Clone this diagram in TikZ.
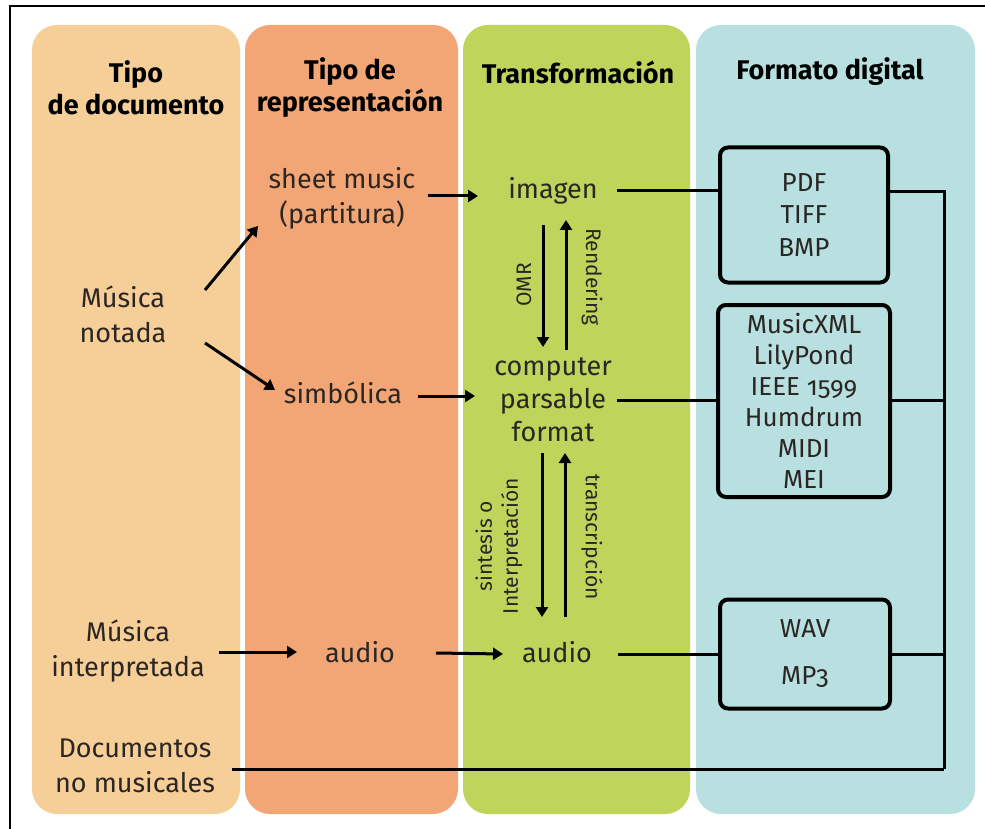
\documentclass[tikz,border=0pt]{standalone}
\usepackage{fontspec}
\setmainfont{Fira Sans}[Numbers=OldStyle]
\usetikzlibrary{positioning,arrows.meta}

\definecolor{coldoc}{HTML}{F6CF98}
\definecolor{colrep}{HTML}{F2A675}
\definecolor{coltra}{HTML}{BED45B}
\definecolor{colfmt}{HTML}{B8E0E1}
\definecolor{darktxt}{HTML}{2B2623}

\tikzset{
  column/.style={fill=#1, draw=none, rounded corners=25pt},
  head/.style={font=\bfseries\fontsize{27}{32}\selectfont, align=center, inner sep=0pt},
  txt/.style={font=\fontsize{27}{35}\selectfont, align=center, text=darktxt, inner sep=0pt},
  small/.style={font=\fontsize{21}{26}\selectfont, align=center, text=darktxt, inner sep=0pt},
  fmtbox/.style={draw, line width=4pt, rounded corners=8pt, align=center,
    text=darktxt, inner sep=0pt},
  arr/.style={-{Triangle[length=10pt,width=12pt]}, line width=3pt},
  link/.style={line width=3pt}
}

\begin{document}
\begin{tikzpicture}[x=1pt,y=-1pt]
  \useasboundingbox (0,0) rectangle (985,829);
  \fill[white] (0,0) rectangle (985,829);
  \draw[line width=1.5pt] (10,829) -- (10,6) -- (985,6);

  % columns
  \fill[column=coldoc] (32,25) rectangle (240,814);
  \fill[column=colrep] (245,25) rectangle (458,814);
  \fill[column=coltra] (463,25) rectangle (690,814);
  \fill[column=colfmt] (696,25) rectangle (975,814);

  % headers
  \node[head] (hdoc) at (136,88) {Tipo\\de documento};
  \node[head] (hrep) at (350,88) {Tipo de\\representación};
  \node[head] (htra) at (578,72) {Transformación};
  \node[head] (hfmt) at (830,72) {Formato digital};

  % tipo de documento
  \node[txt] (notada) at (123,314) {Música\\notada};
  \node[txt] (interp) at (128,651) {Música\\interpretada};
  \node[txt] (nomus) at (135,766) {Documentos\\no musicales};

  % tipo de representacion
  \node[txt] (sheet) at (342,198) {sheet music\\(partitura)};
  \node[txt] (simb) at (343,393) {simbólica};
  \node[txt] (audrep) at (360,652) {audio};

  % transformacion
  \node[txt] (imagen) at (553,191) {imagen};
  \node[txt, font=\fontsize{27}{33}\selectfont] (cpf) at (553,400) {computer\\parsable\\format};
  \node[txt] (audtra) at (557,652) {audio};

  % formato digital
  \node[fmtbox, minimum width=168pt, minimum height=135pt,
    font=\fontsize{26}{32.5}\selectfont] (pdf) at (804,215) {PDF\\TIFF\\BMP};
  \node[fmtbox, minimum width=172pt, minimum height=192pt,
    font=\fontsize{26}{31}\selectfont] (xml) at (804,401)
    {MusicXML\\LilyPond\\IEEE 1599\\Humdrum\\MIDI\\MEI};
  \node[fmtbox, minimum width=170pt, minimum height=109pt,
    font=\fontsize{26}{47}\selectfont] (wav) at (805,654) {WAV\\MP3};

  \coordinate (bustop) at (944,192);
  \coordinate (busbot) at (944,769);

  % arrows
  \draw[arr] ([shift={(82,-24)}]notada.center) -- ([shift={(-84,28)}]sheet.center);
  \draw[arr] ([shift={(82,29)}]notada.center) -- ([shift={(-68,-3)}]simb.center);
  \draw[arr] ([shift={(86,-2)}]sheet.center) -- ([shift={(-75,-2)}]sheet.center -| imagen.center);
  \draw[arr] ([shift={(75,3)}]simb.center) -- ([shift={(-78,3)}]simb.center -| cpf.center);
  \draw[arr] ([shift={(91,1)}]interp.center) -- ([shift={(-63,0)}]audrep.center);
  \draw[arr] ([shift={(76,1)}]audrep.center) -- ([shift={(-54,2)}]audtra.center);

  \draw[arr] ([shift={(-10,34)}]imagen.center) -- ([shift={(-10,-53)}]cpf.center);
  \draw[arr] ([shift={(13,-50)}]cpf.center) -- ([shift={(13,29)}]imagen.center);
  \draw[arr] ([shift={(-11,53)}]cpf.center) -- ([shift={(-15,-35)}]audtra.center);
  \draw[arr] ([shift={(8,-35)}]audtra.center) -- ([shift={(12,53)}]cpf.center);
  \node[small, rotate=90] (omr) at (524,285) {OMR};
  \node[small, rotate=-90] (rend) at (592,277) {Rendering};
  \node[small, rotate=90] (sint) at (499,546) {sintesis o\\Interpretación};
  \node[small, rotate=-90] (trans) at (592,537) {transcripción};

  % links to formats
  \draw[link] ([shift={(64,0)}]imagen.center) -- (pdf.west |- imagen.center);
  \draw[link] ([shift={(64,0)}]cpf.center) -- (xml.west |- cpf.center);
  \draw[link] ([shift={(61,2)}]audtra.center) -- ([yshift=-2pt]wav.west |- audtra.center);
  \draw[link] (bustop -| pdf.east) -- (bustop) -- (busbot);
  \draw[link] (xml.east |- cpf.center) -- (cpf.center -| bustop);
  \draw[link] (wav.east) -- (wav.east -| bustop);
  \draw[link] ([shift={(97,3)}]nomus.center) -- (busbot);
\end{tikzpicture}
\end{document}
